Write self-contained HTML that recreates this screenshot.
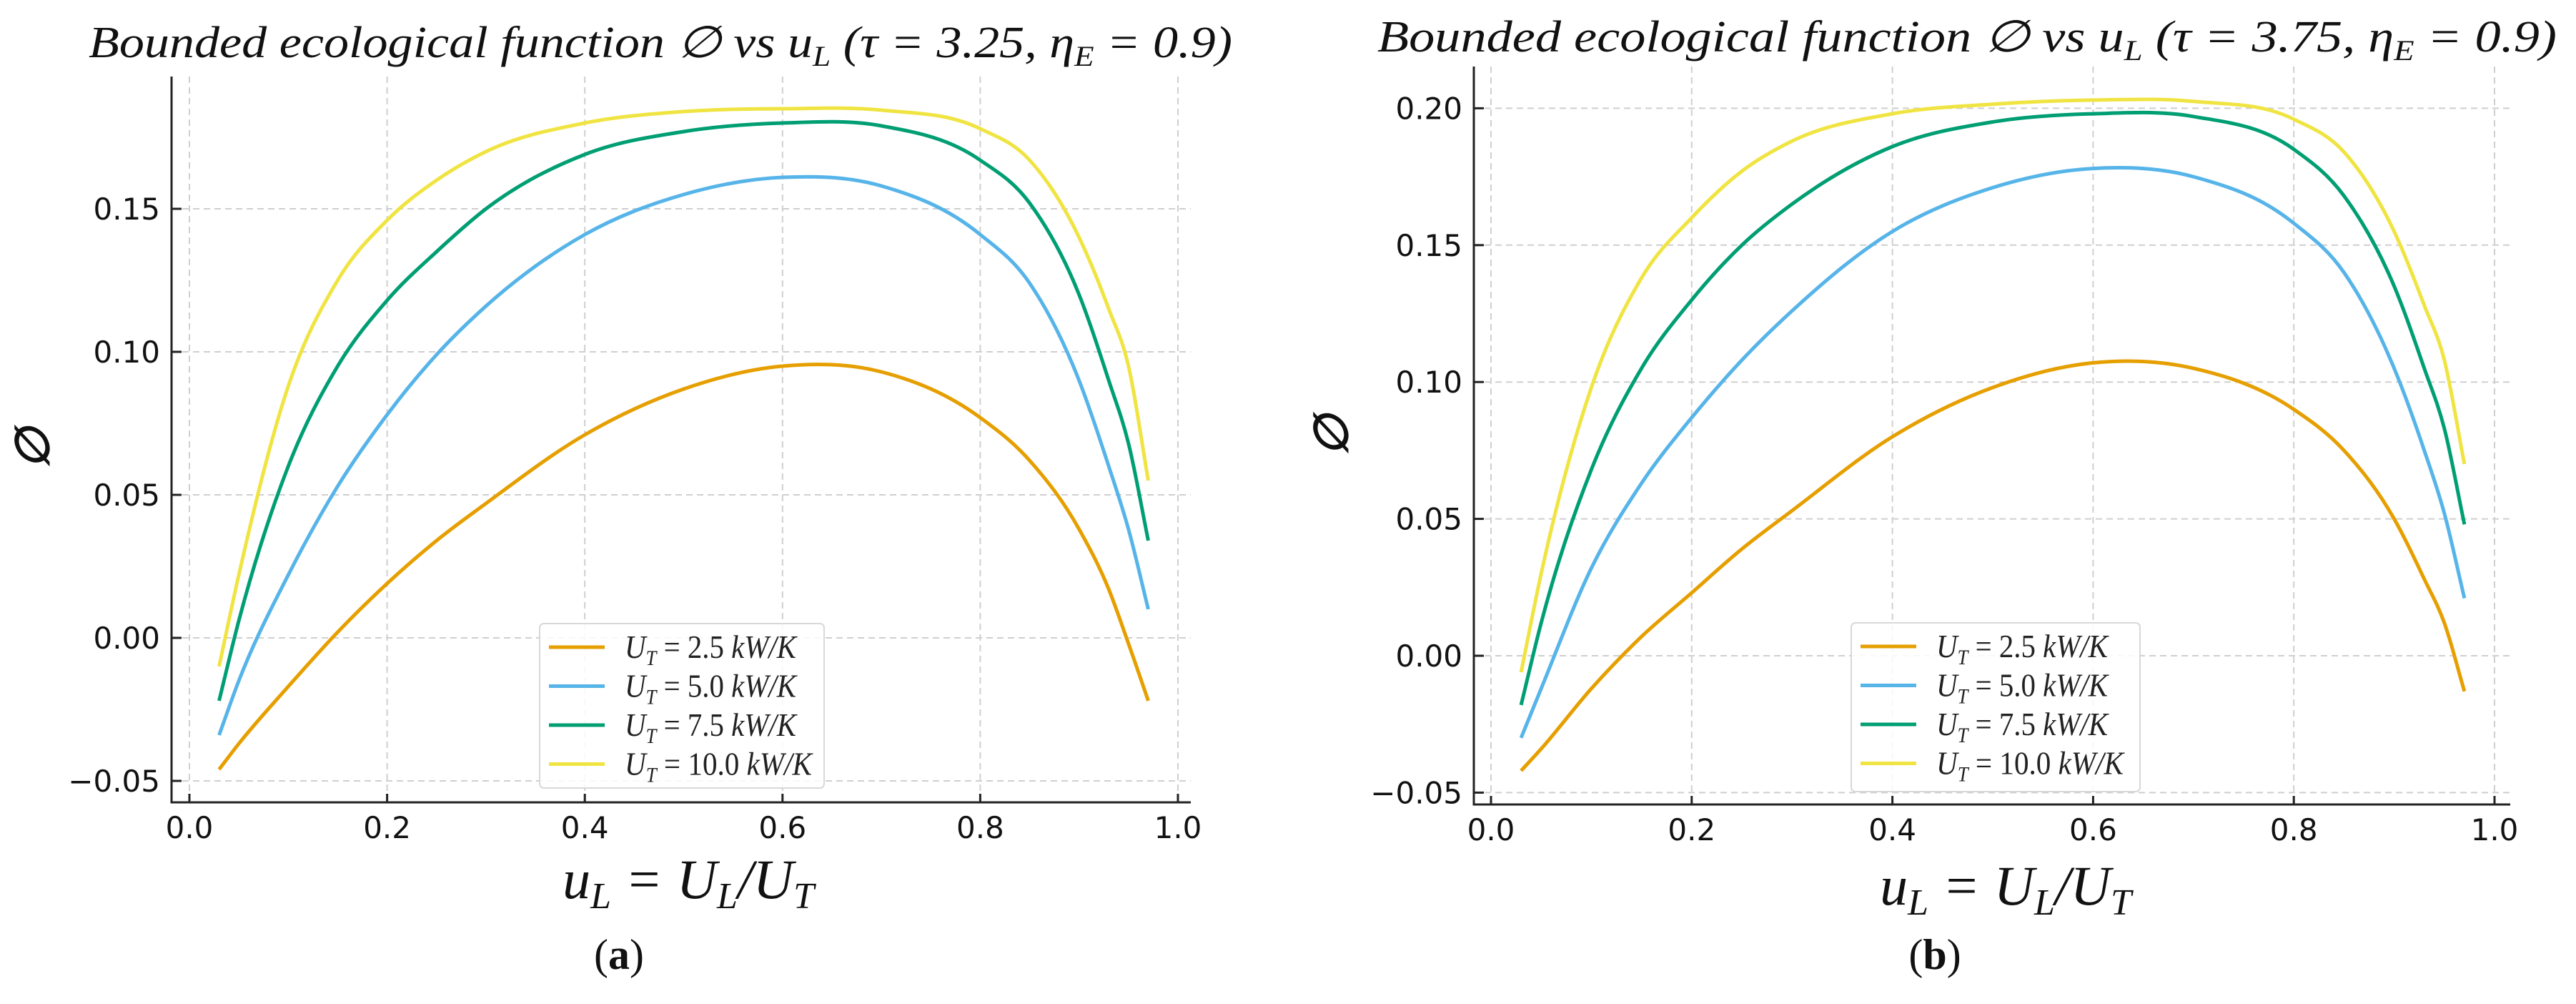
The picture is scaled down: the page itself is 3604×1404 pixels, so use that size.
<!DOCTYPE html>
<html><head><meta charset="utf-8"><style>
html,body{margin:0;padding:0;background:#fff;}
svg{display:block;}
</style></head><body>
<svg id="fig" width="3604" height="1404" viewBox="0 0 3604 1404" xmlns="http://www.w3.org/2000/svg"></svg>
<script>
// ---- Data ----
const seriesLabels = ["2.5", "5.0", "7.5", "10.0"];
const seriesColors = ["#E69F00", "#56B4E9", "#009E73", "#F0E442"];
const xTicks = [0.0, 0.2, 0.4, 0.6, 0.8, 1.0];
const xTickLabels = ["0.0", "0.2", "0.4", "0.6", "0.8", "1.0"];
const yTicksA = [-0.05, 0.00, 0.05, 0.10, 0.15];
const yTickLabelsA = ["\u22120.05", "0.00", "0.05", "0.10", "0.15"];
const yTicksB = [-0.05, 0.00, 0.05, 0.10, 0.15, 0.20];
const yTickLabelsB = ["\u22120.05", "0.00", "0.05", "0.10", "0.15", "0.20"];

const uL = [0.03, 0.05, 0.1, 0.15, 0.2, 0.25, 0.3, 0.4, 0.5, 0.6, 0.7, 0.8, 0.85, 0.9, 0.93, 0.95, 0.97];
// panel (a) tau = 3.25
const phiA25 = [-0.046, -0.037, -0.017, 0.002, 0.019, 0.034, 0.047, 0.071, 0.087, 0.095, 0.093, 0.077, 0.062, 0.038, 0.017, -0.002, -0.022];
const phiA50 = [-0.034, -0.015, 0.022, 0.053, 0.078, 0.099, 0.116, 0.141, 0.155, 0.161, 0.158, 0.141, 0.124, 0.090, 0.060, 0.038, 0.010];
const phiA75 = [-0.022, 0.006, 0.060, 0.095, 0.118, 0.135, 0.150, 0.169, 0.177, 0.180, 0.179, 0.167, 0.152, 0.120, 0.090, 0.068, 0.034];
const phiA100 = [-0.010, 0.022, 0.088, 0.125, 0.146, 0.160, 0.170, 0.180, 0.184, 0.185, 0.1845, 0.178, 0.167, 0.140, 0.115, 0.095, 0.055];
// panel (b) tau = 3.75
const phiB25 = [-0.042, -0.034, -0.012, 0.007, 0.023, 0.039, 0.053, 0.080, 0.098, 0.107, 0.105, 0.090, 0.075, 0.050, 0.028, 0.012, -0.013];
const phiB50 = [-0.030, -0.012, 0.032, 0.063, 0.087, 0.108, 0.126, 0.155, 0.171, 0.178, 0.175, 0.158, 0.140, 0.105, 0.075, 0.052, 0.021];
const phiB75 = [-0.018, 0.012, 0.068, 0.105, 0.130, 0.150, 0.165, 0.186, 0.195, 0.198, 0.197, 0.185, 0.168, 0.135, 0.105, 0.083, 0.048];
const phiB100 = [-0.006, 0.030, 0.098, 0.138, 0.160, 0.177, 0.188, 0.198, 0.2015, 0.203, 0.2025, 0.196, 0.184, 0.155, 0.128, 0.108, 0.070];

const NS = "http://www.w3.org/2000/svg";
const svg = document.getElementById("fig");
function mk(tag, attrs, parent) {
  const e = document.createElementNS(NS, tag);
  for (const k in attrs) e.setAttribute(k, attrs[k]);
  (parent || svg).appendChild(e);
  return e;
}

// Hermite spline with non-uniform three-point derivatives (pixel space)
function smoothPath(pts) {
  const n = pts.length, m = [];
  for (let i = 0; i < n; i++) {
    if (i === 0) m.push((pts[1][1] - pts[0][1]) / (pts[1][0] - pts[0][0]));
    else if (i === n - 1) m.push((pts[n - 1][1] - pts[n - 2][1]) / (pts[n - 1][0] - pts[n - 2][0]));
    else {
      const h0 = pts[i][0] - pts[i - 1][0], h1 = pts[i + 1][0] - pts[i][0];
      const d0 = (pts[i][1] - pts[i - 1][1]) / h0, d1 = (pts[i + 1][1] - pts[i][1]) / h1;
      m.push((d0 * h1 + d1 * h0) / (h0 + h1));
    }
  }
  let d = "M" + pts[0][0].toFixed(1) + "," + pts[0][1].toFixed(1);
  for (let i = 0; i < n - 1; i++) {
    const h = pts[i + 1][0] - pts[i][0];
    const c1x = pts[i][0] + h / 3, c1y = pts[i][1] + m[i] * h / 3;
    const c2x = pts[i + 1][0] - h / 3, c2y = pts[i + 1][1] - m[i + 1] * h / 3;
    d += " C" + c1x.toFixed(1) + "," + c1y.toFixed(1) + " " + c2x.toFixed(1) + "," + c2y.toFixed(1) + " " + pts[i + 1][0].toFixed(1) + "," + pts[i + 1][1].toFixed(1);
  }
  return d;
}

function panel(cfg) {
  const g = mk("g", {});
  
  
  const X = v => cfg.x0 + v * cfg.xu;
  const Y = v => cfg.yz - v * cfg.yu;

  xTicks.forEach((t, i) => {
    const l = mk("line", {x1: X(t), x2: X(t), y1: cfg.top, y2: cfg.bottom, stroke: "#cfcfcf", "stroke-width": 2, "stroke-dasharray": "9,6"}, g);
    
    
  });
  cfg.yTicks.forEach((t, i) => {
    const l = mk("line", {x1: cfg.spine, x2: cfg.right, y1: Y(t), y2: Y(t), stroke: "#cfcfcf", "stroke-width": 2, "stroke-dasharray": "9,6"}, g);
    
    
  });

  cfg.series.forEach((s, i) => {
    const pts = uL.map((u, j) => [X(u), Y(s[j])]);
    const p = mk("path", {d: smoothPath(pts), fill: "none", stroke: seriesColors[i], "stroke-width": 5, "stroke-linejoin": "round"}, g);
    
    
  });

  const sp1 = mk("line", {x1: cfg.spine, x2: cfg.spine, y1: cfg.top, y2: cfg.bottom + 1.5, stroke: "#222", "stroke-width": 3}, g);
  
  
  const sp2 = mk("line", {x1: cfg.spine - 1.5, x2: cfg.right, y1: cfg.bottom, y2: cfg.bottom, stroke: "#222", "stroke-width": 3}, g);
  
  

  xTicks.forEach((t, i) => {
    mk("line", {x1: X(t), x2: X(t), y1: cfg.bottom, y2: cfg.bottom - 12, stroke: "#222", "stroke-width": 3}, g);
    const tx = mk("text", {x: X(t), y: cfg.bottom + 50, "text-anchor": "middle", "font-family": "DejaVu Sans, sans-serif", "font-size": 42, fill: "#111"}, g);
    tx.textContent = xTickLabels[i];
    
    
  });
  cfg.yTicks.forEach((t, i) => {
    mk("line", {x1: cfg.spine, x2: cfg.spine + 14, y1: Y(t), y2: Y(t), stroke: "#222", "stroke-width": 3}, g);
    const tx = mk("text", {x: cfg.spine - 16, y: Y(t) + 15, "text-anchor": "end", "font-family": "DejaVu Sans, sans-serif", "font-size": 42, fill: "#111"}, g);
    tx.textContent = cfg.yTickLabels[i];
    
    
  });

  const ti = mk("text", {x: cfg.titleX, y: cfg.titleY, "font-family": "Liberation Serif, serif", "font-style": "italic", "font-size": 62, fill: "#111", textLength: cfg.titleW, lengthAdjust: "spacingAndGlyphs"}, g);
  
  
  ti.innerHTML = 'Bounded ecological function \u2205 vs <tspan>u</tspan><tspan font-size="40" dy="12">L</tspan><tspan dy="-12"> (\u03C4 = ' + cfg.tau + ', \u03B7</tspan><tspan font-size="40" dy="12">E</tspan><tspan dy="-12"> = 0.9)</tspan>';

  const yl = mk("text", {x: 0, y: 0, transform: "translate(" + (cfg.ylX + 16) + "," + cfg.ylY + ") rotate(-90)", "text-anchor": "middle", "font-family": "Liberation Serif, serif", "font-style": "italic", "font-weight": "bold", "font-size": 66, fill: "#111"}, g);
  yl.textContent = "\u2205";
  
  

  const xl = mk("text", {x: cfg.xlX, y: cfg.xlY + 24, "text-anchor": "middle", "font-family": "Liberation Serif, serif", "font-style": "italic", "font-size": 78, fill: "#111"}, g);
  xl.innerHTML = 'u<tspan font-size="52" dy="14">L</tspan><tspan dy="-14"> = U</tspan><tspan font-size="52" dy="14">L</tspan><tspan dy="-14">/U</tspan><tspan font-size="52" dy="14">T</tspan>';
  
  

  const cap = mk("text", {x: cfg.capX, y: cfg.capY + 20, "text-anchor": "middle", "font-family": "Liberation Serif, serif", "font-size": 60, fill: "#111"}, g);
  cap.innerHTML = '(<tspan font-weight="bold">' + cfg.cap + '</tspan>)';
  
  

  const lg = mk("g", {}, g);
  
  
  mk("rect", {x: cfg.lgX, y: cfg.lgY, width: cfg.lgW, height: cfg.lgH, rx: 6, fill: "#fff", "fill-opacity": 0.85, stroke: "#d8d8d8", "stroke-width": 2}, lg);
  seriesLabels.forEach((lab, i) => {
    const ey = cfg.lgY + 33 + i * 54.5;
    const ent = mk("g", {}, lg);
    
    
    mk("line", {x1: cfg.lgX + 13, x2: cfg.lgX + 91, y1: ey, y2: ey, stroke: seriesColors[i], "stroke-width": 5}, ent);
    const t = mk("text", {x: cfg.lgX + 119, y: ey + 15, "font-family": "Liberation Serif, serif", "font-size": 46, fill: "#222", textLength: (lab.length > 3 ? 262 : 240), lengthAdjust: "spacingAndGlyphs"}, ent);
    t.innerHTML = '<tspan font-style="italic">U</tspan><tspan font-style="italic" font-size="30" dy="10">T</tspan><tspan dy="-10"> = ' + lab + ' </tspan><tspan font-style="italic">kW/K</tspan>';
  });
}

panel({name: "panel-a", x0: 265, xu: 1383, yz: 892, yu: 4000, spine: 240, right: 1666, top: 107, bottom: 1122,
  yTicks: yTicksA, yTickLabels: yTickLabelsA, series: [phiA25, phiA50, phiA75, phiA100], tau: "3.25",
  titleX: 124, titleY: 80, titleW: 1600, ylX: 52, ylY: 627, xlX: 963, xlY: 1232, capX: 866, capY: 1335, cap: "a",
  lgX: 755, lgY: 872, lgW: 398, lgH: 230});
panel({name: "panel-b", x0: 2086, xu: 1404, yz: 917, yu: 3828, spine: 2062, right: 3512, top: 93, bottom: 1125,
  yTicks: yTicksB, yTickLabels: yTickLabelsB, series: [phiB25, phiB50, phiB75, phiB100], tau: "3.75",
  titleX: 1927, titleY: 72, titleW: 1650, ylX: 1869, ylY: 609, xlX: 2806, xlY: 1241, capX: 2707, capY: 1335, cap: "b",
  lgX: 2590, lgY: 871, lgW: 404, lgH: 236});
</script>
</body></html>
